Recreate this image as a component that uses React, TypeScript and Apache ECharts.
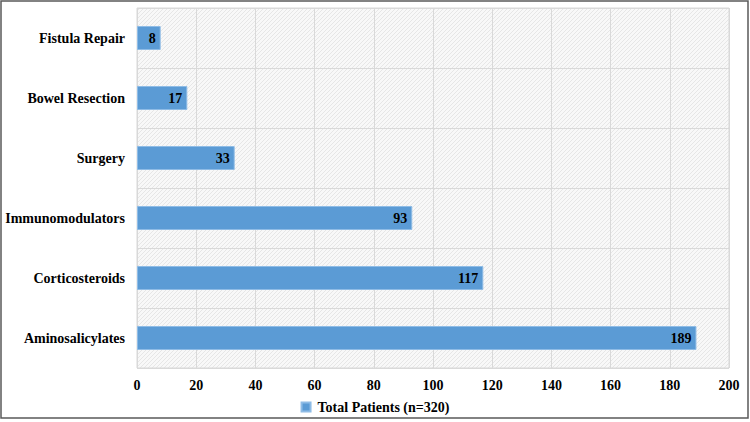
import React, { useEffect, useRef } from "react";
import * as echarts from "echarts";

const categories = ["Aminosalicylates", "Corticosteroids", "Immunomodulators", "Surgery", "Bowel Resection", "Fistula Repair"];
const values = [189, 117, 93, 33, 17, 8];
const seriesName = "Total Patients (n=320)";

function makePattern() {
  const c = document.createElement("canvas");
  c.width = 4;
  c.height = 4;
  const ctx = c.getContext("2d")!;
  ctx.fillStyle = "#f8f8f8";
  ctx.fillRect(0, 0, 4, 4);
  ctx.fillStyle = "#e6e6e6";
  ctx.fillRect(0, 3, 1, 1);
  ctx.fillRect(1, 2, 1, 1);
  ctx.fillRect(2, 1, 1, 1);
  ctx.fillRect(3, 0, 1, 1);
  return c;
}

export default function App() {
  const ref = useRef<HTMLDivElement>(null);
  useEffect(() => {
    document.body.style.margin = "0";
    const chart = echarts.init(ref.current!, undefined, { renderer: "svg" });
    const font = "'Liberation Serif', 'Times New Roman', serif";
    chart.setOption({
      animation: false,
      backgroundColor: "#ffffff",
      textStyle: { fontFamily: font },
      grid: {
        left: 137,
        right: 21,
        top: 8,
        bottom: 54,
        show: true,
        backgroundColor: { image: makePattern(), repeat: "repeat" } as any,
        borderColor: "#d9d9d9",
        borderWidth: 1,
      },
      legend: {
        bottom: 3,
        left: "center",
        icon: "rect",
        itemWidth: 9,
        itemHeight: 9,
        itemGap: 4,
        textStyle: { fontFamily: font, fontWeight: "bold", fontSize: 14, color: "#000", padding: [0, 0, 0, 2] },
        data: [seriesName],
      },
      xAxis: {
        type: "value",
        min: 0,
        max: 200,
        interval: 20,
        axisLine: { show: false },
        axisTick: { show: false },
        axisLabel: { fontFamily: font, fontWeight: "bold", fontSize: 14, color: "#000", margin: 10 },
        splitLine: { show: true, lineStyle: { color: "#d9d9d9", width: 1 } },
      },
      yAxis: {
        type: "category",
        data: categories,
        axisLine: { show: false },
        axisTick: { show: false },
        axisLabel: { fontFamily: font, fontWeight: "bold", fontSize: 14, color: "#000", margin: 12 },
        splitLine: { show: true, lineStyle: { color: "#d9d9d9", width: 1 } },
      },
      series: [
        {
          name: seriesName,
          type: "bar",
          data: values,
          barWidth: 24,
          itemStyle: { color: "#5b9bd5", borderColor: "#8fbce6", borderWidth: 1 },
          label: {
            show: true,
            position: "insideRight",
            distance: 5,
            fontFamily: font,
            fontWeight: "bold",
            fontSize: 14,
            color: "#000",
          },
        },
      ],
      graphic: [
        {
          type: "rect",
          shape: { x: 1, y: 1, width: 747, height: 417 },
          style: { fill: "none", stroke: "#595959", lineWidth: 1.5 },
          silent: true,
          z: 100,
        },
      ],
    });
    return () => chart.dispose();
  }, []);
  return <div ref={ref} style={{ width: 750, height: 422 }} />;
}
